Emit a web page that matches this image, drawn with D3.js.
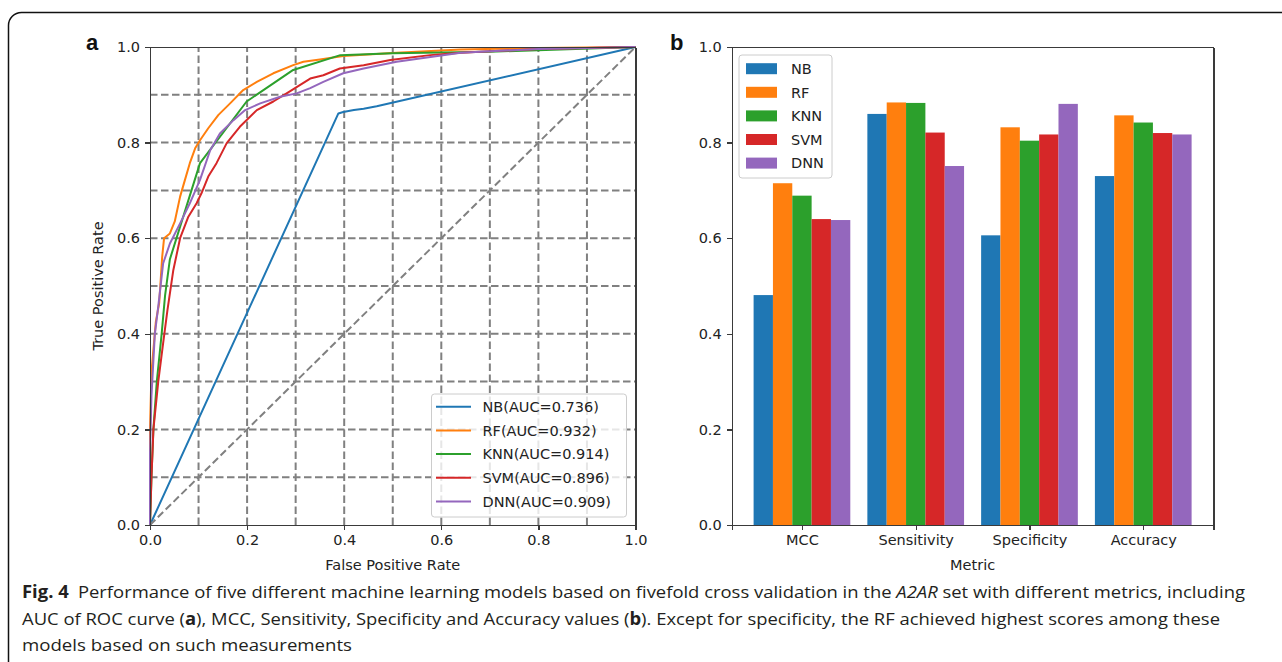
<!DOCTYPE html>
<meta charset="utf-8">
<style>
body { margin: 0; background: #fff; }
text { font-family: "DejaVu Sans", sans-serif; fill: #222; }
.axis path, .axis line { stroke: #3a3a3a; stroke-width: 1.3px; shape-rendering: crispEdges; }
.axis text { font-size: 14.5px; }
.grid line { stroke: #808080; stroke-width: 2px; stroke-dasharray: 7.5,3.5; }
.caption { font-family: "Liberation Sans Narrow", "Open Sans", sans-serif; font-size: 17px; fill: #231f20; }
</style>
<svg width="1282" height="662"></svg>
<script src="https://d3js.org/d3.v7.min.js"></script>
<script>
// ---- data ----
var models = ["NB", "RF", "KNN", "SVM", "DNN"];
var aucs = [0.736, 0.932, 0.914, 0.896, 0.909];
var colors = ["#1f77b4", "#ff7f0e", "#2ca02c", "#d62728", "#9467bd"];

// ROC points [fpr, tpr]
var rocNB = [[0,0],[0.388,0.861],[0.398,0.864],[0.42,0.868],[0.44,0.871],[0.467,0.876],[1,1]];
var rocRF = [[0,0],[0,0.2],[0.003,0.32],[0.012,0.425],[0.019,0.465],[0.025,0.56],[0.029,0.6],[0.041,0.61],[0.051,0.635],
  [0.062,0.687],[0.072,0.722],[0.082,0.757],[0.093,0.788],[0.103,0.805],[0.12,0.83],[0.141,0.858],[0.165,0.882],
  [0.192,0.91],[0.22,0.927],[0.254,0.945],[0.295,0.962],[0.316,0.969],[0.35,0.974],[0.398,0.981],[0.508,0.988],
  [0.64,0.995],[0.8,0.998],[1,1]];
var rocKNN = [[0,0],[0.003,0.1],[0.007,0.2],[0.014,0.3],[0.024,0.4],[0.031,0.48],[0.041,0.556],[0.103,0.757],
  [0.199,0.886],[0.295,0.952],[0.392,0.983],[0.5,0.987],[0.7,0.99],[1,1]];
var rocSVM = [[0,0],[0.003,0.1],[0.007,0.2],[0.017,0.3],[0.027,0.38],[0.036,0.45],[0.048,0.533],[0.062,0.6],
  [0.079,0.645],[0.096,0.673],[0.106,0.694],[0.12,0.729],[0.137,0.757],[0.158,0.799],[0.185,0.833],[0.22,0.868],
  [0.254,0.886],[0.288,0.907],[0.33,0.934],[0.357,0.941],[0.391,0.955],[0.44,0.962],[0.495,0.973],[0.577,0.983],
  [0.64,0.988],[0.8,0.996],[1,1]];
var rocDNN = [[0,0],[0,0.15],[0.003,0.27],[0.01,0.4],[0.017,0.457],[0.027,0.547],[0.041,0.589],[0.062,0.631],
  [0.082,0.673],[0.103,0.722],[0.124,0.784],[0.144,0.819],[0.172,0.847],[0.196,0.868],[0.227,0.882],[0.268,0.896],
  [0.302,0.903],[0.33,0.914],[0.357,0.927],[0.398,0.945],[0.44,0.955],[0.508,0.969],[0.64,0.988],[0.8,0.996],[1,1]];
var rocs = [rocNB, rocRF, rocKNN, rocSVM, rocDNN];

// bar values per metric, model order NB RF KNN SVM DNN
var metrics = ["MCC", "Sensitivity", "Specificity", "Accuracy"];
var valMCC = [0.481, 0.715, 0.689, 0.640, 0.638];
var valSens = [0.860, 0.884, 0.883, 0.821, 0.751];
var valSpec = [0.606, 0.832, 0.804, 0.817, 0.881];
var valAcc = [0.730, 0.857, 0.842, 0.820, 0.817];
var barVals = [valMCC, valSens, valSpec, valAcc];

var ticks5 = [0, 0.2, 0.4, 0.6, 0.8, 1.0];
var gridTicks = [0.1, 0.2, 0.3, 0.4, 0.5, 0.6, 0.7, 0.8, 0.9];

var svg = d3.select("svg");
var fmt = d3.format(".1f");

// outer frame
svg.append("rect").attr("x", 8.5).attr("y", 12.5).attr("width", 1300).attr("height", 700)
  .attr("rx", 13).attr("fill", "none").attr("stroke", "#111").attr("stroke-width", 1.5);

// ================= panel a =================
var xa = d3.scaleLinear().domain([0, 1]).range([150, 635.5]);
var ya = d3.scaleLinear().domain([0, 1]).range([525, 47]);

var ga = svg.append("g");
var grid = ga.append("g").attr("class", "grid");
grid.selectAll(".gv").data(gridTicks).enter().append("line")
  .attr("x1", d => xa(d)).attr("x2", d => xa(d)).attr("y1", ya(0)).attr("y2", ya(1));
grid.selectAll(".gh").data(gridTicks).enter().append("line")
  .attr("y1", d => ya(d)).attr("y2", d => ya(d)).attr("x1", xa(0)).attr("x2", xa(1));

var line = d3.line().x(d => xa(d[0])).y(d => ya(d[1]));
ga.selectAll(".roc").data(rocs).enter().append("path")
  .attr("d", line).attr("fill", "none")
  .attr("stroke", (d, i) => colors[i]).attr("stroke-width", 2).attr("stroke-linejoin", "round");

ga.append("path").attr("d", line([[0,0],[1,1]])).attr("fill", "none")
  .attr("stroke", "#808080").attr("stroke-width", 2).attr("stroke-dasharray", "7.5,3.5");

ga.append("g").attr("class", "axis").attr("transform", "translate(0," + ya(0) + ")")
  .call(d3.axisBottom(xa).tickValues(ticks5).tickFormat(fmt).tickSize(5).tickPadding(5));
ga.append("g").attr("class", "axis").attr("transform", "translate(" + xa(0) + ",0)")
  .call(d3.axisLeft(ya).tickValues(ticks5).tickFormat(fmt).tickSize(5).tickPadding(5));
ga.append("g").attr("class", "axis").attr("transform", "translate(0," + ya(1) + ")")
  .call(d3.axisTop(xa).tickValues([]).tickSizeOuter(0));
ga.append("g").attr("class", "axis").attr("transform", "translate(" + xa(1) + ",0)")
  .call(d3.axisRight(ya).tickValues([]).tickSizeOuter(0));
ga.selectAll(".axis text").attr("fill", "#222").style("fill", "#222");

ga.append("text").attr("x", (xa(0) + xa(1)) / 2).attr("y", 570).attr("text-anchor", "middle")
  .style("font-size", "14.5px").text("False Positive Rate");
ga.append("text").attr("transform", "translate(103," + (ya(0) + ya(1)) / 2 + ") rotate(-90)")
  .attr("text-anchor", "middle").style("font-size", "14.5px").text("True Positive Rate");
ga.append("text").attr("x", 86).attr("y", 50).style("font-family", "Liberation Sans, Arial, sans-serif")
  .style("font-weight", "bold").style("font-size", "22px").style("fill", "#111").text("a");

// legend a
var la = ga.append("g");
la.append("rect").attr("x", 431.5).attr("y", 394).attr("width", 195).attr("height", 123).attr("rx", 3)
  .attr("fill", "#fff").attr("fill-opacity", 0.8).attr("stroke", "#ccc");
models.forEach(function(m, i) {
  var yy = 406.7 + i * 23.7;
  la.append("line").attr("x1", 436).attr("x2", 471).attr("y1", yy).attr("y2", yy)
    .attr("stroke", colors[i]).attr("stroke-width", 2);
  la.append("text").attr("x", 482.5).attr("y", yy).attr("dy", "0.36em")
    .style("font-size", "14.5px").text(m + "(AUC=" + aucs[i].toFixed(3) + ")");
});

// ================= panel b =================
var xb = d3.scaleLinear().domain([-0.6175, 3.6175]).range([731.7, 1213.5]);
var yb = d3.scaleLinear().domain([0, 1]).range([525, 47]);
var bw = 0.17;

var gb = svg.append("g");
metrics.forEach(function(met, i) {
  gb.selectAll(".bar" + i).data(barVals[i]).enter().append("rect")
    .attr("x", (d, j) => xb(i - 2.5 * bw + j * bw))
    .attr("width", xb(bw) - xb(0))
    .attr("y", d => yb(d))
    .attr("height", d => yb(0) - yb(d))
    .attr("fill", (d, j) => colors[j]);
});

gb.append("g").attr("class", "axis").attr("transform", "translate(0," + yb(0) + ")")
  .call(d3.axisBottom(xb).tickValues([0, 1, 2, 3]).tickFormat(i => metrics[i]).tickSize(5).tickPadding(5));
gb.append("g").attr("class", "axis").attr("transform", "translate(" + xb.range()[0] + ",0)")
  .call(d3.axisLeft(yb).tickValues(ticks5).tickFormat(fmt).tickSize(5).tickPadding(5));
gb.append("g").attr("class", "axis").attr("transform", "translate(0," + yb(1) + ")")
  .call(d3.axisTop(xb).tickValues([]).tickSizeOuter(0));
gb.append("g").attr("class", "axis").attr("transform", "translate(" + xb.range()[1] + ",0)")
  .call(d3.axisRight(yb).tickValues([]).tickSizeOuter(0));
gb.selectAll(".axis text").style("fill", "#222");

gb.append("text").attr("x", (xb.range()[0] + xb.range()[1]) / 2).attr("y", 570).attr("text-anchor", "middle")
  .style("font-size", "14.5px").text("Metric");
gb.append("text").attr("x", 670).attr("y", 50).style("font-family", "Liberation Sans, Arial, sans-serif")
  .style("font-weight", "bold").style("font-size", "22px").style("fill", "#111").text("b");

// legend b
var lb = gb.append("g");
lb.append("rect").attr("x", 739).attr("y", 55).attr("width", 93).attr("height", 123).attr("rx", 3)
  .attr("fill", "#fff").attr("fill-opacity", 0.8).attr("stroke", "#ccc");
models.forEach(function(m, i) {
  var yy = 68.7 + i * 23.6;
  lb.append("rect").attr("x", 746).attr("y", yy - 5.5).attr("width", 31).attr("height", 11).attr("fill", colors[i]);
  lb.append("text").attr("x", 791).attr("y", yy).attr("dy", "0.36em").style("font-size", "14.5px").text(m);
});

// ================= caption =================
var cap = svg.append("g");
var l1 = cap.append("text").attr("class", "caption").attr("x", 22).attr("y", 598)
  .attr("textLength", 1223).attr("lengthAdjust", "spacingAndGlyphs");
l1.append("tspan").style("font-weight", "bold").text("Fig. 4");
l1.append("tspan").text("\u2002Performance of five different machine learning models based on fivefold cross validation in the ");
l1.append("tspan").style("font-style", "italic").text("A2AR");
l1.append("tspan").text(" set with different metrics, including");

var l2 = cap.append("text").attr("class", "caption").attr("x", 22).attr("y", 625)
  .attr("textLength", 1198).attr("lengthAdjust", "spacingAndGlyphs");
l2.append("tspan").text("AUC of ROC curve (");
l2.append("tspan").style("font-weight", "bold").text("a");
l2.append("tspan").text("), MCC, Sensitivity, Specificity and Accuracy values (");
l2.append("tspan").style("font-weight", "bold").text("b");
l2.append("tspan").text("). Except for specificity, the RF achieved highest scores among these");

cap.append("text").attr("class", "caption").attr("x", 22).attr("y", 651)
  .attr("textLength", 330).attr("lengthAdjust", "spacingAndGlyphs")
  .text("models based on such measurements");
</script>
